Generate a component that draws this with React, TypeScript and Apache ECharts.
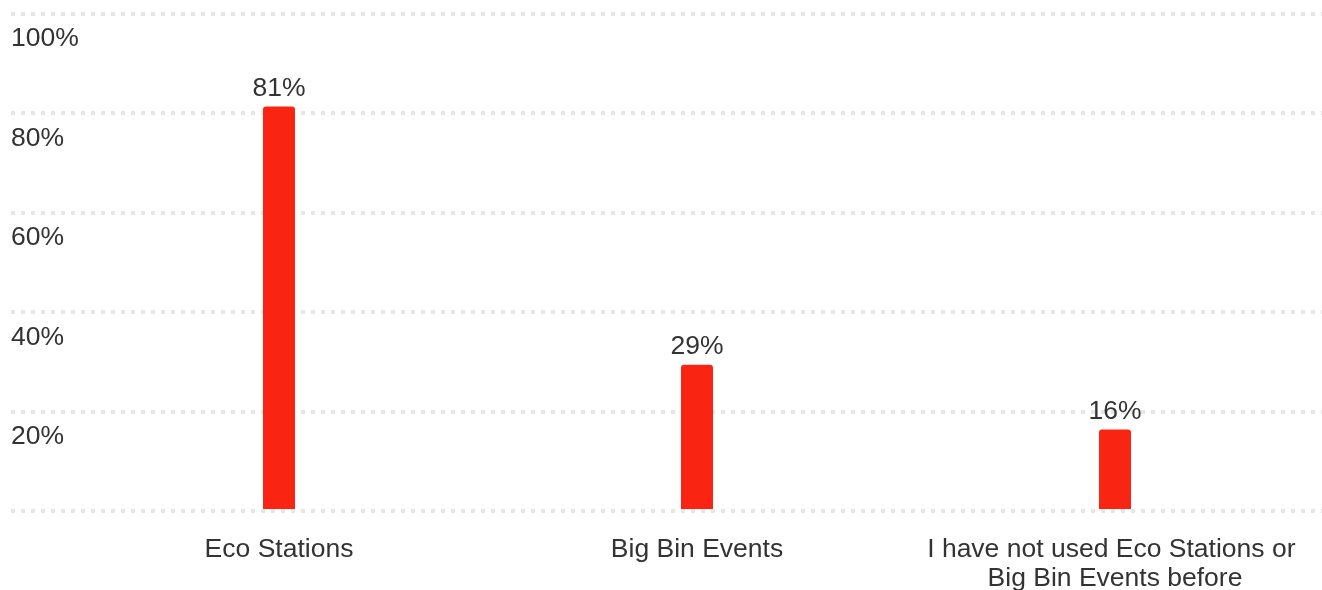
import React, { useEffect, useRef } from "react";
import * as echarts from "echarts";

const categories = [
  "Eco Stations",
  "Big Bin Events",
  "I have not used Eco Stations or Big Bin Events before",
];
const values = [81, 29, 16];
const yTicks = [0, 20, 40, 60, 80, 100];

const FONT = "'Liberation Sans', Arial, Helvetica, sans-serif";
const TEXT = "#333333";
const RED = "#fa2412";

export default function App() {
  const ref = useRef<HTMLDivElement>(null);
  useEffect(() => {
    if (!ref.current) return;
    const chart = echarts.init(ref.current, undefined, { renderer: "svg" });
    chart.setOption({
      animation: false,
      textStyle: { fontFamily: FONT },
      grid: [
        {
          left: 11,
          right: 0,
          top: 13.5,
          height: 497.5,
          containLabel: false,
          outerBoundsMode: "none",
        },
        {
          left: 70,
          right: -2,
          top: 12,
          height: 497,
          containLabel: false,
          outerBoundsMode: "none",
        },
      ],
      xAxis: [
        {
          gridIndex: 0,
          type: "category",
          data: categories,
          show: false,
        },
        {
          gridIndex: 1,
          type: "category",
          data: categories,
          axisLine: { show: false },
          axisTick: { show: false },
          axisLabel: {
            color: TEXT,
            fontSize: 26.5,
            fontFamily: FONT,
            margin: 24,
            lineHeight: 29,
            width: 390,
            overflow: "break",
            interval: 0,
          },
        },
      ],
      yAxis: [
        {
          gridIndex: 0,
          type: "value",
          min: yTicks[0],
          max: yTicks[yTicks.length - 1],
          interval: 20,
          axisLine: { show: false },
          axisTick: { show: false },
          splitLine: {
            show: true,
            lineStyle: { color: "#e6e6e6", width: 4, type: [4, 6] },
          },
          axisLabel: {
            inside: true,
            showMinLabel: false,
            margin: 0,
            align: "left",
            verticalAlign: "top",
            padding: [10, 0, 0, 0],
            color: TEXT,
            fontSize: 26.5,
            fontFamily: FONT,
            formatter: (v: number) => `${v}%`,
          },
        },
        {
          gridIndex: 1,
          type: "value",
          min: yTicks[0],
          max: yTicks[yTicks.length - 1],
          interval: 20,
          show: false,
          splitLine: { show: false },
        },
      ],
      series: [
        {
          type: "bar",
          xAxisIndex: 1,
          yAxisIndex: 1,
          data: values,
          barWidth: 32,
          itemStyle: { color: RED, borderRadius: [3, 3, 0, 0] },
          label: {
            show: true,
            position: "top",
            distance: 6,
            color: TEXT,
            fontSize: 26.5,
            fontFamily: FONT,
            formatter: (p: any) => `${p.value}%`,
          },
        },
      ],
    });
    return () => chart.dispose();
  }, []);
  return (
    <div
      ref={ref}
      style={{ position: "fixed", left: 0, top: 0, width: 1322, height: 590 }}
    />
  );
}
